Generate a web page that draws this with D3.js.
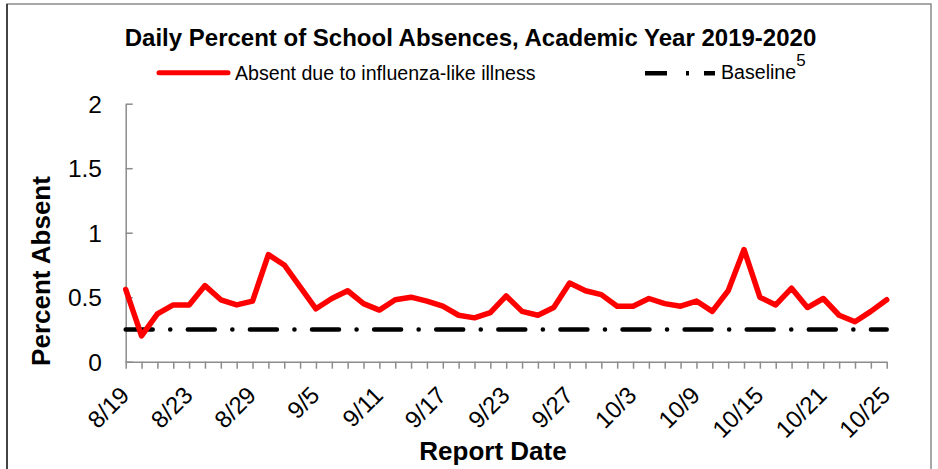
<!DOCTYPE html>
<html>
<head>
<meta charset="utf-8">
<script src="https://cdn.jsdelivr.net/npm/d3@7"></script>
<style>
    html, body { margin: 0; padding: 0; background: #ffffff; }
    svg { display: block; font-family: Arial, "Liberation Sans", sans-serif; }
</style>
</head>
<body>
<div id="chart"></div>
<script>
// Report dates (school days, Labor Day skipped)
const reportDates = [
    "8/19", "8/20", "8/21", "8/22", "8/23", "8/26", "8/27", "8/28", "8/29", "8/30",
    "9/3", "9/4", "9/5", "9/6", "9/9", "9/10", "9/11", "9/12", "9/13", "9/16",
    "9/17", "9/18", "9/19", "9/20", "9/23", "9/24", "9/25", "9/26", "9/27", "9/30",
    "10/1", "10/2", "10/3", "10/4", "10/7", "10/8", "10/9", "10/10", "10/11", "10/14",
    "10/15", "10/16", "10/17", "10/18", "10/21", "10/22", "10/23", "10/24", "10/25"
];

// Percent absent due to influenza-like illness
const absentPct = [
    0.56, 0.20, 0.37, 0.44, 0.44, 0.59, 0.48, 0.44, 0.47, 0.83,
    0.75, 0.58, 0.41, 0.49, 0.55, 0.45, 0.40, 0.48, 0.50, 0.47,
    0.43, 0.36, 0.34, 0.38, 0.51, 0.39, 0.36, 0.42, 0.61, 0.55,
    0.52, 0.43, 0.43, 0.49, 0.45, 0.43, 0.47, 0.39, 0.55, 0.87,
    0.50, 0.44, 0.57, 0.42, 0.49, 0.36, 0.31, 0.39, 0.48
];

const baselineValue = 0.25;

const yTicks = [0, 0.5, 1, 1.5, 2];
const xLabels = ["8/19", "8/23", "8/29", "9/5", "9/11", "9/17", "9/23", "9/27", "10/3", "10/9", "10/15", "10/21", "10/25"];

const width = 938;
const height = 469;
const margin = { top: 103.7, right: 51.3, bottom: 107.3, left: 125.7 };

const svg = d3.select("#chart").append("svg")
    .attr("width", width)
    .attr("height", height)
    .attr("viewBox", `0 0 ${width} ${height}`);

// Outer frame (top, left, right edges visible)
svg.append("path")
    .attr("d", `M7,${height} V4 H931 V${height}`)
    .attr("fill", "none")
    .attr("stroke", "#8a8a8a")
    .attr("stroke-width", 1.5);
svg.append("line")
    .attr("x1", 7).attr("x2", 7).attr("y1", 4).attr("y2", height)
    .attr("stroke", "#222")
    .attr("stroke-width", 1.5);

const x = d3.scalePoint()
    .domain(reportDates)
    .range([margin.left, width - margin.right]);

const y = d3.scaleLinear()
    .domain([0, 2])
    .range([height - margin.bottom, margin.top]);

const axisColor = "#8c8c8c";

// X axis: a tick at every report date, labels every 4th
const xAxis = svg.append("g")
    .attr("transform", `translate(0,${height - margin.bottom})`)
    .call(d3.axisBottom(x).tickSize(7).tickSizeOuter(0).tickFormat(""));
xAxis.select(".domain").attr("stroke", axisColor).attr("stroke-width", 1.5);
xAxis.selectAll(".tick line").attr("stroke", axisColor).attr("stroke-width", 1.5);

svg.append("g")
    .selectAll("text")
    .data(xLabels)
    .join("text")
    .attr("transform", d => `translate(${x(d) + 5},${height - margin.bottom + 35}) rotate(-45)`)
    .attr("text-anchor", "end")
    .style("font-size", "24px")
    .style("fill", "#000")
    .text(d => d);

// Y axis: ticks pointing into the plot
const yAxis = svg.append("g")
    .attr("transform", `translate(${margin.left},0)`)
    .call(d3.axisRight(y).tickValues(yTicks).tickSize(7).tickSizeOuter(0).tickFormat(""));
yAxis.select(".domain").attr("stroke", axisColor).attr("stroke-width", 1.5);
yAxis.selectAll(".tick line").attr("stroke", axisColor).attr("stroke-width", 1.5);

svg.append("g")
    .selectAll("text")
    .data(yTicks)
    .join("text")
    .attr("x", 102)
    .attr("y", d => y(d))
    .attr("dy", "0.36em")
    .attr("text-anchor", "end")
    .style("font-size", "24.5px")
    .style("fill", "#000")
    .text(d => d);

// Baseline (dash-dot)
svg.append("line")
    .attr("x1", x(reportDates[0]))
    .attr("x2", x(reportDates[reportDates.length - 1]))
    .attr("y1", y(baselineValue))
    .attr("y2", y(baselineValue))
    .attr("stroke", "#000")
    .attr("stroke-width", 4.5)
    .attr("stroke-linecap", "round")
    .attr("stroke-dasharray", "27,17.5,0.1,17.5");

// ILI absence line
const line = d3.line()
    .x((d, i) => x(reportDates[i]))
    .y(d => y(d));

svg.append("path")
    .datum(absentPct)
    .attr("d", line)
    .attr("fill", "none")
    .attr("stroke", "#ff0000")
    .attr("stroke-width", 5.5)
    .attr("stroke-linejoin", "round")
    .attr("stroke-linecap", "round");

// Title
svg.append("text")
    .attr("x", 470.5)
    .attr("y", 46)
    .attr("text-anchor", "middle")
    .style("font-size", "24px")
    .style("font-weight", "bold")
    .text("Daily Percent of School Absences, Academic Year 2019-2020");

// Legend
const legend = svg.append("g");
legend.append("line")
    .attr("x1", 159).attr("x2", 228).attr("y1", 72.7).attr("y2", 72.7)
    .attr("stroke", "#ff0000")
    .attr("stroke-width", 5)
    .attr("stroke-linecap", "round");
legend.append("text")
    .attr("x", 235).attr("y", 80)
    .style("font-size", "19.6px")
    .text("Absent due to influenza-like illness");

legend.append("line")
    .attr("x1", 645).attr("x2", 715).attr("y1", 73.3).attr("y2", 73.3)
    .attr("stroke", "#000")
    .attr("stroke-width", 4.5)
    .attr("stroke-dasharray", "22,19,3,15,11");
const baseText = legend.append("text")
    .attr("x", 721).attr("y", 79)
    .style("font-size", "19.6px");
baseText.append("tspan").text("Baseline");
baseText.append("tspan")
    .attr("dy", -13)
    .style("font-size", "17px")
    .text("5");

// Axis titles
svg.append("text")
    .attr("transform", "translate(50,271) rotate(-90)")
    .attr("text-anchor", "middle")
    .style("font-size", "26px")
    .style("font-weight", "bold")
    .text("Percent Absent");

svg.append("text")
    .attr("x", 493)
    .attr("y", 460)
    .attr("text-anchor", "middle")
    .style("font-size", "26px")
    .style("font-weight", "bold")
    .text("Report Date");
</script>
</body>
</html>
